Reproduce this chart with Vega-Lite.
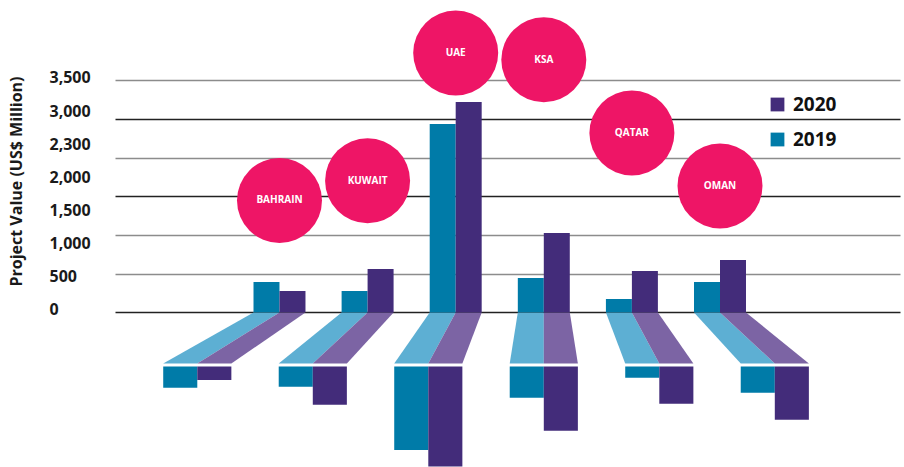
{
  "$schema": "https://vega.github.io/schema/vega-lite/v6.json",
  "width": 785,
  "height": 467,
  "autosize": {"type": "none"},
  "padding": {"left": 115, "right": 4, "top": 0, "bottom": 0},
  "background": "white",
  "config": {"view": {"stroke": null}, "font": "Open Sans"},
  "datasets": {
    "bars": [
      {"country": "BAHRAIN", "year": "2019", "value": 393, "lower": 274},
      {"country": "BAHRAIN", "year": "2020", "value": 277, "lower": 175},
      {"country": "KUWAIT", "year": "2019", "value": 277, "lower": 261},
      {"country": "KUWAIT", "year": "2020", "value": 561, "lower": 494},
      {"country": "UAE", "year": "2019", "value": 2437, "lower": 1080},
      {"country": "UAE", "year": "2020", "value": 2722, "lower": 1294},
      {"country": "KSA", "year": "2019", "value": 445, "lower": 404},
      {"country": "KSA", "year": "2020", "value": 1027, "lower": 831},
      {"country": "QATAR", "year": "2019", "value": 173, "lower": 145},
      {"country": "QATAR", "year": "2020", "value": 536, "lower": 481},
      {"country": "OMAN", "year": "2019", "value": 393, "lower": 339},
      {"country": "OMAN", "year": "2020", "value": 678, "lower": 688}
    ],
    "labels": [
      {"country": "BAHRAIN", "labelY": 1448},
      {"country": "KUWAIT", "labelY": 1704},
      {"country": "UAE", "labelY": 3356},
      {"country": "KSA", "labelY": 3268},
      {"country": "QATAR", "labelY": 2321},
      {"country": "OMAN", "labelY": 1635}
    ]
  },
  "resolve": {"scale": {"y": "independent"}, "axis": {"y": "independent"}},
  "layer": [
    {
      "data": {"values": [{"k": 1}]},
      "mark": {"type": "rule", "opacity": 0},
      "encoding": {
        "y": {
          "datum": 0,
          "type": "quantitative",
          "scale": {"domain": [-2381, 4679], "nice": false, "zero": false},
          "axis": {
            "orient": "left",
            "values": [0, 500, 1000, 1500, 2000, 2500, 3000, 3500],
            "labelExpr": "datum.value == 2500 ? '2,300' : format(datum.value, ',')",
            "grid": false,
            "ticks": false,
            "tickSize": 0,
            "domain": false,
            "labelAlign": "left",
            "labelBaseline": "middle",
            "labelPadding": 66,
            "labelFont": "Open Sans",
            "labelFontSize": 16,
            "labelFontWeight": "bold",
            "labelColor": "#1a1a1a",
            "title": "Project Value (US$ Million)",
            "titleX": -99,
            "titleY": 181,
            "titleAngle": -90,
            "titleAlign": "center",
            "titleBaseline": "middle",
            "titleFont": "Open Sans",
            "titleFontSize": 16,
            "titleFontWeight": "bold",
            "titleColor": "#1a1a1a"
          }
        }
      }
    },
    {
      "data": {"name": "bars"},
      "transform": [
        {"window": [{"op": "row_number", "as": "rn"}]},
        {"calculate": "floor((datum.rn - 1) / 2)", "as": "idx"},
        {"calculate": "datum.year == '2019' ? datum.idx - 0.295 : datum.idx", "as": "uL"},
        {"calculate": "datum.uL + 0.295", "as": "uR"},
        {"calculate": "3 + (datum.uL - 3) * 1.311", "as": "lL"},
        {"calculate": "3 + (datum.uR - 3) * 1.311", "as": "lR"}
      ],
      "resolve": {"scale": {"y": "independent"}, "axis": {"y": "independent"}},
      "layer": [
        {
          "transform": [
            {"fold": ["uL", "lL"], "as": ["end", "L"]},
            {"calculate": "datum.end == 'uL' ? datum.uR : datum.lR", "as": "R"},
            {"calculate": "datum.end == 'uL' ? 0 : 1", "as": "level"}
          ],
          "mark": {"type": "area", "orient": "horizontal"},
          "encoding": {
            "y": {"field": "level", "type": "quantitative", "scale": {"domain": [-6.114, 3.025], "reverse": true, "nice": false, "zero": false}, "axis": null},
            "x": {"field": "L", "type": "quantitative", "scale": {"domain": [-1.867, 7.043], "nice": false, "zero": false}, "axis": null},
            "x2": {"field": "R"},
            "detail": [{"field": "country"}, {"field": "year"}],
            "color": {"condition": {"test": "datum.year == '2019'", "value": "#5DAFD3"}, "value": "#7C64A4"}
          }
        },
        {
          "mark": {"type": "bar"},
          "encoding": {
            "x": {"field": "uL", "type": "quantitative", "scale": {"domain": [-1.867, 7.043], "nice": false, "zero": false}, "axis": null},
            "x2": {"field": "uR"},
            "y": {
              "field": "value",
              "type": "quantitative",
              "scale": {"domain": [-2000, 4041], "nice": false, "zero": false},
              "axis": {
                "orient": "left",
                "values": [0, 500, 1000, 1500, 2000, 2500, 3000],
                "grid": true,
                "labels": false,
                "ticks": false,
                "domain": false,
                "title": null,
                "gridColor": {"condition": {"test": "datum.value == 0 || datum.value == 1500 || datum.value == 2500", "value": "#222222"}, "value": "#8c8c8c"},
                "gridWidth": 1.4
              }
            },
            "y2": {"datum": 0},
            "color": {
              "field": "year",
              "type": "nominal",
              "scale": {"domain": ["2020", "2019"], "range": ["#432C7A", "#007BA8"]},
              "legend": {
                "orient": "none",
                "legendX": 653,
                "legendY": 95,
                "title": null,
                "symbolType": "square",
                "symbolSize": 190,
                "symbolStrokeWidth": 0,
                "symbolOpacity": 1,
                "labelFont": "Open Sans",
                "labelFontSize": 19,
                "labelFontWeight": "bold",
                "labelColor": "#111111",
                "labelOffset": 6,
                "rowPadding": 15
              }
            }
          }
        },
        {
          "mark": {"type": "bar"},
          "encoding": {
            "x": {"field": "lL", "type": "quantitative", "scale": {"domain": [-1.867, 7.043], "nice": false, "zero": false}, "axis": null},
            "x2": {"field": "lR"},
            "y": {"field": "lower", "type": "quantitative", "scale": {"domain": [-4741, 1300], "reverse": true, "nice": false, "zero": false}, "axis": null},
            "y2": {"datum": 0},
            "color": {"field": "year", "type": "nominal"}
          }
        }
      ]
    },
    {
      "data": {"name": "labels"},
      "transform": [
        {"window": [{"op": "row_number", "as": "rn"}]},
        {"calculate": "datum.rn - 1", "as": "idx"}
      ],
      "encoding": {
        "x": {"field": "idx", "type": "quantitative", "scale": {"domain": [-1.867, 7.043], "nice": false, "zero": false}, "axis": null},
        "y": {"field": "labelY", "type": "quantitative", "scale": {"domain": [-2000, 4041], "nice": false, "zero": false}, "axis": null}
      },
      "layer": [
        {"mark": {"type": "point", "shape": "circle", "filled": true, "size": 7225, "color": "#EE1566", "opacity": 1, "strokeWidth": 0}},
        {"mark": {"type": "text", "color": "#FFFFFF", "font": "Open Sans", "fontSize": 10, "fontWeight": "bold", "align": "center", "baseline": "middle"}, "encoding": {"text": {"field": "country"}}}
      ]
    }
  ]
}
